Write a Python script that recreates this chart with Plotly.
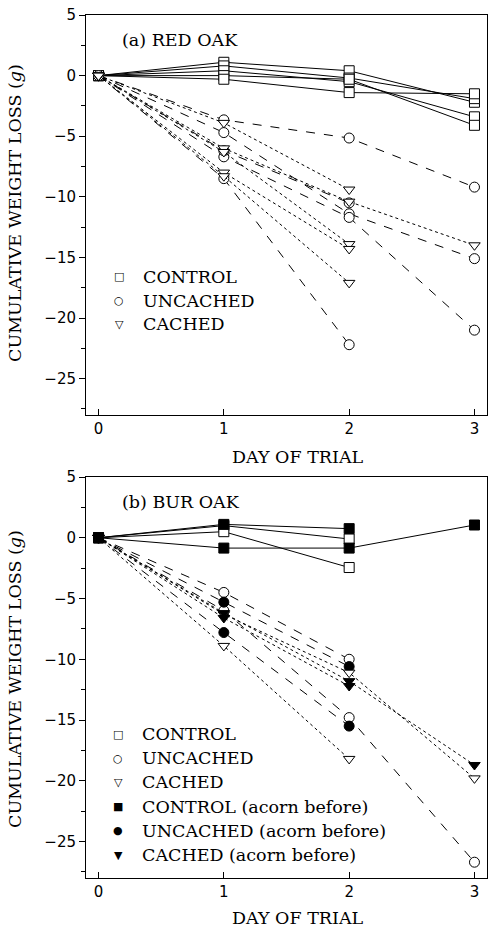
import plotly.graph_objects as go
from plotly.subplots import make_subplots

days = [0, 1, 2, 3]
y_ticks = [5, 0, -5, -10, -15, -20, -25]
x_ticks = [0, 1, 2, 3]

# Panel (a) RED OAK
red_control = [
    [0, 1.1, 0.4, -2.2],
    [0, 0.8, -0.2, -1.9],
    [0, 0.4, -0.5, -3.4],
    [0, 0.0, -0.3, -4.1],
    [0, -0.3, -1.4, -1.5],
]
red_uncached = [
    [0, -3.65, -5.15, -9.2],
    [0, -4.7, -11.4, -15.1],
    [0, -6.7, -11.7, -21.0],
    [0, -8.5, -22.2, None],
    [0, -6.2, -10.5, None],
]
red_cached = [
    [0, -3.9, -9.4, None],
    [0, -6.0, -10.4, -14.0],
    [0, -6.3, -13.9, None],
    [0, -8.0, -14.3, None],
    [0, -8.3, -17.1, None],
]

# Panel (b) BUR OAK
bur_control = [[0, 1.0, -0.1, None], [0, 0.5, -2.45, None]]
bur_control_before = [[0, 1.1, 0.75, None], [0, -0.85, -0.85, 1.05]]
bur_uncached = [[0, -4.5, -10.0, None], [0, -6.0, -14.8, -26.7]]
bur_uncached_before = [[0, -5.3, -10.6, None], [0, -7.8, -15.5, None]]
bur_cached = [[0, -8.9, -18.2, None], [0, -6.3, -11.1, -19.8]]
bur_cached_before = [[0, -6.6, -12.2, None], [0, -6.2, -11.8, -18.7]]

legend_a = [("□", "CONTROL"), ("○", "UNCACHED"), ("▽", "CACHED")]
legend_b = [("□", "CONTROL"), ("○", "UNCACHED"), ("▽", "CACHED"),
            ("■", "CONTROL (acorn before)"), ("●", "UNCACHED (acorn before)"),
            ("▼", "CACHED (acorn before)")]

SERIF = "DejaVu Serif"
SANS = "DejaVu Sans"

fig = make_subplots(rows=2, cols=1, vertical_spacing=0.0)

def add_group(series, row, symbol, filled, dash):
    for s in series:
        fig.add_trace(go.Scatter(
            x=days, y=s, mode="lines+markers",
            line=dict(color="black", width=1, dash=dash),
            marker=dict(symbol=symbol, size=10,
                        color="black" if filled else "white",
                        line=dict(color="black", width=1)),
            showlegend=False, connectgaps=False, cliponaxis=False,
        ), row=row, col=1)

add_group(red_control, 1, "square", False, "solid")
add_group(red_uncached, 1, "circle", False, "dash")
add_group(red_cached, 1, "triangle-down", False, "dot")

add_group(bur_control, 2, "square", False, "solid")
add_group(bur_control_before, 2, "square", True, "solid")
add_group(bur_uncached, 2, "circle", False, "dash")
add_group(bur_uncached_before, 2, "circle", True, "dash")
add_group(bur_cached, 2, "triangle-down", False, "dot")
add_group(bur_cached_before, 2, "triangle-down", True, "dot")

W, H = 491, 929
L, R, T, B = 86, 4, 15, 51
pw = W - L - R
ph = H - T - B
dom_a = [(H - B - 415) / ph, 1.0]
dom_b = [0.0, (H - B - 477) / ph]

def px(xp):
    return (xp - L) / pw

def py(yp):
    return 1 - (yp - T) / ph

axis_common = dict(
    showline=True, linecolor="black", linewidth=1, mirror=True,
    showgrid=False, zeroline=False,
)
for i, dom in ((1, dom_a), (2, dom_b)):
    fig.update_xaxes(
        range=[-0.1, 3.1], tickvals=x_ticks, ticks="inside", ticklen=6,
        tickcolor="black", tickfont=dict(family=SANS, size=15, color="black"),
        **axis_common, row=i, col=1)
    fig.update_yaxes(
        range=[-28, 5], tickvals=y_ticks, ticks="outside", ticklen=6,
        tickcolor="black", tickfont=dict(family=SANS, size=15, color="black"),
        minor=dict(dtick=2.5, tick0=0, ticks="outside", ticklen=4, tickcolor="black"),
        domain=dom, **axis_common, row=i, col=1)

text_font = dict(family=SERIF, size=17.5, color="black")
ann = []

def add_text(text, xp, yp, anchor="left", font=text_font, angle=0):
    ann.append(dict(text=text, x=px(xp), y=py(yp), xref="paper", yref="paper",
                    xanchor=anchor, yanchor="middle", showarrow=False,
                    font=font, textangle=angle))

add_text("(a) RED OAK", 120, 40)
add_text("(b) BUR OAK", 120, 502)
for yc in (213, 679):
    add_text("CUMULATIVE WEIGHT LOSS (<i>g</i>)", 15, yc, anchor="center",
             font=dict(family=SERIF, size=17.5, color="black"), angle=-90)
for yl in (457, 918):
    add_text("DAY OF TRIAL", 298, yl, anchor="center")

sym_font = dict(family=SANS, size=11, color="black")
for k, (sym, name) in enumerate(legend_a):
    yy = 277 + k * 23.5
    add_text(sym, 119, yy, anchor="center", font=sym_font)
    add_text(name, 141, yy)
for k, (sym, name) in enumerate(legend_b):
    yy = 734 + k * 24.2
    add_text(sym, 118, yy, anchor="center", font=sym_font)
    add_text(name, 140, yy)

fig.update_layout(
    width=W, height=H,
    margin=dict(l=L, r=R, t=T, b=B),
    paper_bgcolor="white", plot_bgcolor="white",
    annotations=ann, showlegend=False,
)

fig.write_html(
    "out.html",
    config={"displayModeBar": False},
    post_script="document.body.style.margin='0';document.body.style.overflow='hidden';",
)
